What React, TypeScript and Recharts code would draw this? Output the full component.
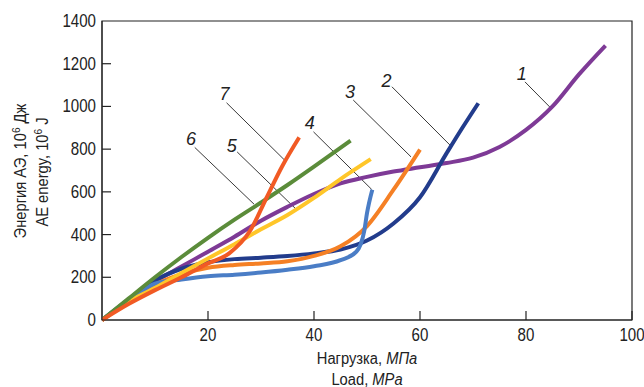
import React from "react";
import {
  LineChart,
  Line,
  XAxis,
  YAxis,
  ReferenceArea,
  ReferenceLine,
  ReferenceDot,
} from "recharts";

const FONT = "'Liberation Sans Narrow', 'Arial Narrow', 'Liberation Sans', sans-serif";

const xTicks = [20, 40, 60, 80, 100];
const yTicks = [0, 200, 400, 600, 800, 1000, 1200, 1400];

// curve 1
const load1 = [0, 5, 10, 15, 20, 25, 30, 35, 40, 45, 50, 55, 60, 65, 70, 75, 80, 85, 90, 95];
const energy1 = [0, 90, 180, 250, 320, 390, 465, 530, 590, 640, 670, 695, 715, 735, 760, 810, 890, 1000, 1150, 1285];
// curve 2
const load2 = [0, 5, 10, 15, 20, 25, 30, 35, 40, 45, 50, 55, 60, 65, 68, 71];
const energy2 = [0, 95, 185, 240, 270, 285, 292, 300, 312, 330, 372, 452, 575, 780, 900, 1015];
// curve 3
const load3 = [0, 5, 10, 15, 20, 25, 30, 35, 40, 45, 50, 55, 60];
const energy3 = [0, 85, 165, 215, 245, 258, 265, 275, 300, 345, 440, 610, 798];
// curve 4
const load4 = [0, 5, 10, 15, 20, 25, 30, 35, 40, 45, 48, 49.5, 50, 51];
const energy4 = [0, 90, 170, 190, 205, 212, 222, 235, 252, 280, 320, 420, 500, 610];
// curve 5
const load5 = [0, 5, 10, 15, 20, 25, 30, 35, 40, 45, 50.7];
const energy5 = [0, 85, 150, 220, 288, 355, 425, 492, 572, 660, 753];
// curve 6
const load6 = [0, 5, 10, 15, 20, 25, 30, 35, 40, 46.9];
const energy6 = [0, 100, 200, 295, 385, 470, 550, 632, 718, 840];
// curve 7
const load7 = [0, 5, 10, 15, 20, 24, 28, 31, 34, 37.2];
const energy7 = [0, 75, 140, 200, 265, 312, 420, 570, 720, 855];

const toPoints = (xs: number[], ys: number[]) => xs.map((x, i) => ({ x, y: ys[i] }));

const series = [
  { name: "1", data: toPoints(load1, energy1), color: "#7E3A96" },
  { name: "2", data: toPoints(load2, energy2), color: "#223C8C" },
  { name: "3", data: toPoints(load3, energy3), color: "#F58025" },
  { name: "4", data: toPoints(load4, energy4), color: "#4A7DC6" },
  { name: "5", data: toPoints(load5, energy5), color: "#FFC629" },
  { name: "6", data: toPoints(load6, energy6), color: "#5B8C3A" },
  { name: "7", data: toPoints(load7, energy7), color: "#F15A24" },
];

// leader lines: label point, line start, line end (data coords)
const callouts = [
  { label: "1", tx: 79.2, ty: 1155, x1: 79.8, y1: 1115, x2: 84.5, y2: 997 },
  { label: "2", tx: 53.7, ty: 1123, x1: 54.7, y1: 1092, x2: 65.7, y2: 818 },
  { label: "3", tx: 46.8, ty: 1068, x1: 47.4, y1: 1030, x2: 58.3, y2: 764 },
  { label: "4", tx: 39.2, ty: 922, x1: 39.9, y1: 881, x2: 50.9, y2: 611 },
  { label: "5", tx: 24.5, ty: 818, x1: 25.5, y1: 787, x2: 36.7, y2: 517 },
  { label: "6", tx: 16.8, ty: 847, x1: 17.5, y1: 808, x2: 28.7, y2: 542 },
  { label: "7", tx: 23.1, ty: 1061, x1: 23.5, y1: 1017, x2: 34.6, y2: 745 },
];

const SQUEEZE = 0.84;

const renderXTick = (props: any) => {
  const { x, y, payload } = props;
  return (
    <g>
      <line x1={x} y1={y} x2={x} y2={y - 9} stroke="#222" strokeWidth={1.2} />
      <text
        transform={`translate(${x},${y + 21}) scale(${SQUEEZE},1)`}
        textAnchor="middle"
        fontSize={18}
        fontFamily={FONT}
        fill="#222"
      >
        {payload.value}
      </text>
    </g>
  );
};

const renderYTick = (props: any) => {
  const { x, y, payload } = props;
  return (
    <g>
      {payload.value !== 0 && payload.value !== 1400 && (
        <line x1={x} y1={y} x2={x + 9} y2={y} stroke="#222" strokeWidth={1.2} />
      )}
      <text
        transform={`translate(${x - 6},${y + 6}) scale(${SQUEEZE},1)`}
        textAnchor="end"
        fontSize={18}
        fontFamily={FONT}
        fill="#222"
      >
        {payload.value}
      </text>
    </g>
  );
};

export default function App() {
  return (
    <div style={{ position: "absolute", left: 0, top: 0, width: 644, height: 387, background: "#fff" }}>
      <LineChart
        width={644}
        height={387}
        margin={{ top: 21, right: 12, bottom: 37, left: 62 }}
      >
        <XAxis
          type="number"
          dataKey="x"
          domain={[0, 100]}
          ticks={xTicks}
          tick={renderXTick}
          tickSize={0}
          tickMargin={0}
          tickLine={false}
          height={30}
          stroke="#222"
          interval={0}
          allowDataOverflow
        />
        <YAxis
          type="number"
          dataKey="y"
          domain={[0, 1400]}
          ticks={yTicks}
          tick={renderYTick}
          tickSize={0}
          tickMargin={0}
          tickLine={false}
          width={40}
          stroke="#222"
          interval={0}
        />
        <ReferenceArea x1={0} x2={100} y1={0} y2={1400} fill="none" stroke="#222" strokeWidth={1.2} />
        {callouts.map((c) => (
          <ReferenceLine
            key={`l${c.label}`}
            segment={[
              { x: c.x1, y: c.y1 },
              { x: c.x2, y: c.y2 },
            ]}
            stroke="#222"
            strokeWidth={0.9}
          />
        ))}
        {series.map((s) => (
          <Line
            key={s.name}
            data={s.data}
            dataKey="y"
            type="monotone"
            stroke={s.color}
            strokeWidth={4}
            dot={false}
            isAnimationActive={false}
          />
        ))}
        {callouts.map((c) => (
          <ReferenceDot
            key={`t${c.label}`}
            x={c.tx}
            y={c.ty}
            r={0}
            fill="none"
            stroke="none"
            label={{
              value: c.label,
              position: "center",
              fontSize: 18,
              fontStyle: "italic",
              fontFamily: FONT,
              fill: "#222",
            }}
          />
        ))}
      </LineChart>
      <svg
        width={644}
        height={387}
        style={{ position: "absolute", left: 0, top: 0, pointerEvents: "none" }}
      >
        <g fontFamily={FONT} fontSize={16} fill="#222" textAnchor="middle">
          <text transform={`translate(367,364) scale(0.92,1)`}>
            Нагрузка, <tspan fontStyle="italic">МПа</tspan>
          </text>
          <text transform={`translate(367,385) scale(0.92,1)`}>
            Load, <tspan fontStyle="italic">MPa</tspan>
          </text>
          <text transform="translate(26,171) rotate(-90) scale(0.92,1)">
            Энергия АЭ, 10<tspan dy={-6} fontSize={11}>6</tspan>
            <tspan dy={6}> Дж</tspan>
          </text>
          <text transform="translate(48,172) rotate(-90) scale(0.92,1)">
            AE energy, 10<tspan dy={-6} fontSize={11}>6</tspan>
            <tspan dy={6}> J</tspan>
          </text>
        </g>
      </svg>
    </div>
  );
}
